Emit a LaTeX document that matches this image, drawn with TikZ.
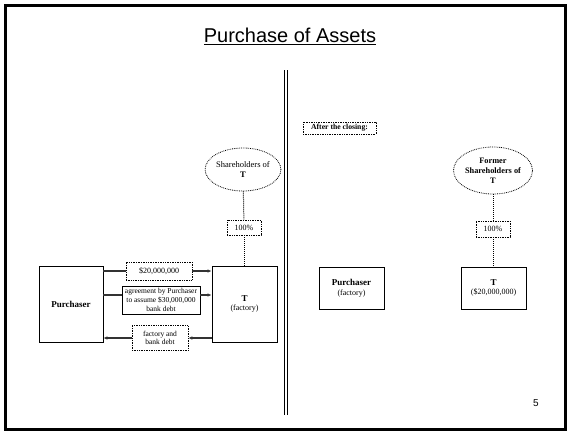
\documentclass[tikz,border=0pt]{standalone}
\usepackage{fontspec}
\setmainfont{Liberation Serif}
\newfontfamily\arial{Liberation Sans}
\usetikzlibrary{arrows.meta,shapes.geometric}
\begin{document}
\begin{tikzpicture}[x=1pt,y=-1pt,
  box/.style={draw=black,line width=0.9pt,rectangle,inner sep=0pt,align=center},
  dotbox/.style={draw=black,line width=0.7pt,densely dotted,rectangle,inner sep=0pt,align=center},
  oval/.style={draw=black,line width=0.8pt,densely dotted,ellipse,inner sep=0pt,align=center},
  link/.style={draw=black!80,line width=1.1pt},
  own/.style={draw=black,line width=1pt,densely dotted},
  flow/.style={link,-{Latex[length=4pt,width=3.6pt]}},
  small/.style={font=\fontsize{7.5}{8.7}\selectfont},
  mid/.style={font=\fontsize{8}{9.5}\selectfont}]
\useasboundingbox (0,0) rectangle (570,431);
% slide frame
\draw[line width=3pt] (5.5,5.5) rectangle (565.5,429.5);
% title
\node (title) at (290,36) {\arial\fontsize{20}{24}\selectfont\underline{Purchase of Assets}};
% divider between the two states
\draw[line width=1pt,double,double distance=2pt] (286,70) -- (286,415);
% page number
\node (pg) at (536,403) {\arial\fontsize{10}{12}\selectfont 5};

% ---- before the closing ----
\node[box,minimum width=64pt,minimum height=76pt] (P) at (71,304)
  {\fontsize{9}{10}\selectfont\bfseries Purchaser};
\node[box,minimum width=65pt,minimum height=76pt,mid] (T) at (244.5,304)
  {\fontsize{9}{10}\selectfont\bfseries T\\(factory)};
\node[oval,minimum width=72pt,minimum height=43pt,font=\fontsize{8.5}{10}\selectfont] (S) at (243,169.5)
  {Shareholders of\\\textbf{T}};
\node[dotbox,minimum width=34pt,minimum height=15pt,mid] (pct) at (244,227.5) {100\%};
\draw[own] (S) -- (pct);
\draw[own] (pct) -- (pct |- T.north);

\node[dotbox,minimum width=66pt,minimum height=18pt,mid] (cash) at (159,271) {\$20,000,000};
\node[box,line width=0.8pt,minimum width=78pt,minimum height=28pt,small] (agr) at (161,300)
  {agreement by Purchaser\\to assume \$30,000,000\\bank debt};
\node[dotbox,minimum width=56pt,minimum height=25pt,small] (back) at (160,338)
  {factory and\\bank debt};

\draw[link] (cash.west) -- (cash.west -| P.east);
\draw[flow] (cash.east) -- (cash.east -| T.west);
\draw[link] ([yshift=5pt]agr.west) -- ([yshift=5pt]agr.west -| P.east);
\draw[flow] ([yshift=5pt]agr.east) -- ([yshift=5pt]agr.east -| T.west);
\draw[flow] (back.east -| T.west) -- (back.east);
\draw[flow] (back.west) -- (back.west -| P.east);

% ---- after the closing ----
\node[dotbox,minimum width=73pt,minimum height=12pt,font=\fontsize{7.7}{9}\selectfont\bfseries] (after) at (339.5,128)
  {After the closing:};
\node[oval,minimum width=72pt,minimum height=47pt,font=\fontsize{8.3}{10}\selectfont\bfseries] (FS) at (493,170.5)
  {Former\\Shareholders of\\T};
\node[dotbox,minimum width=34pt,minimum height=16pt,mid] (pct2) at (493,229) {100\%};
\node[box,minimum width=65pt,minimum height=42pt,mid] (P2) at (351.5,288)
  {\fontsize{9}{10}\selectfont\bfseries Purchaser\\(factory)};
\node[box,minimum width=65pt,minimum height=42pt,mid] (T2) at (493.5,288)
  {\fontsize{9}{10}\selectfont\bfseries T\\(\$20,000,000)};
\draw[own] (FS) -- (pct2);
\draw[own] (pct2) -- (pct2 |- T2.north);
\end{tikzpicture}
\end{document}
